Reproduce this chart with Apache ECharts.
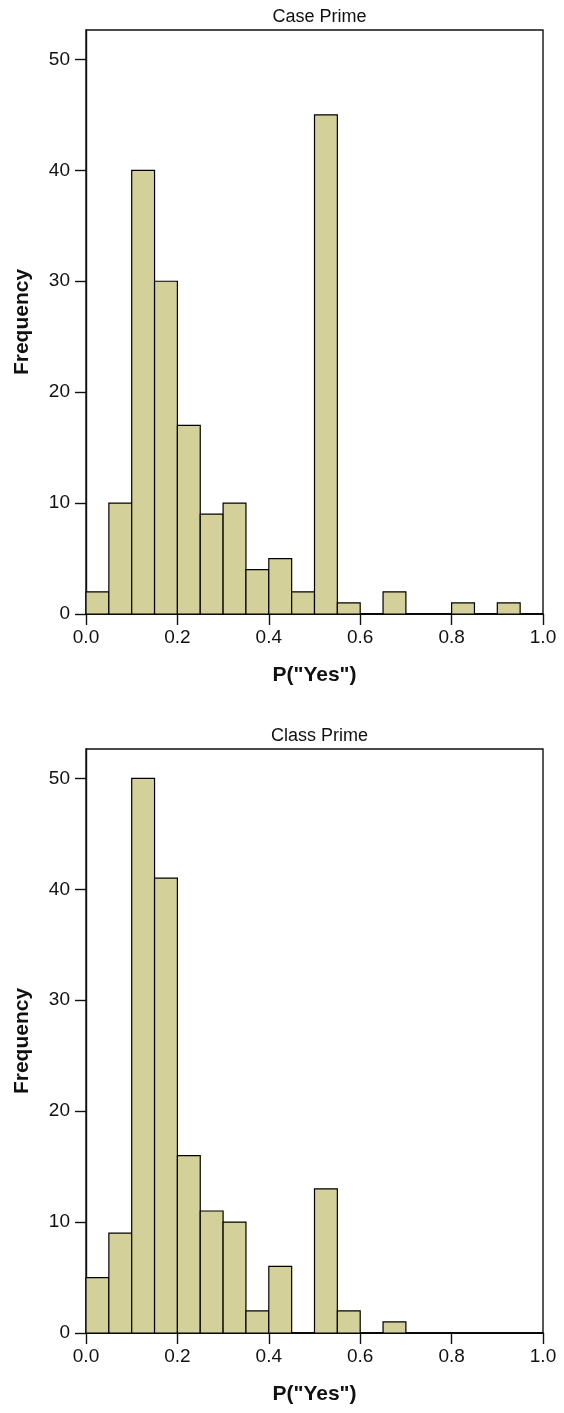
<!DOCTYPE html>
<html>
<head>
<meta charset="utf-8">
<script src="https://cdn.jsdelivr.net/npm/echarts@6/dist/echarts.min.js"></script>
<style>
html,body{margin:0;padding:0;background:#fff;}
#chart{width:564px;height:1413px;}
</style>
</head>
<body>
<div id="chart"></div>
<script>
// Histogram bins (P("Yes"), width 0.05)
const binStarts = [0.00,0.05,0.10,0.15,0.20,0.25,0.30,0.35,0.40,0.45,0.50,0.55,0.60,0.65,0.70,0.75,0.80,0.85,0.90,0.95];
const binWidth = 0.05;
const caseCounts  = [2,10,40,30,17,9,10,4,5,2,45,1,0,2,0,0,1,0,1,0];
const classCounts = [5,9,50,41,16,11,10,2,6,0,13,2,0,1,0,0,0,0,0,0];
const titles = ['Case Prime','Class Prime'];
const xTicks = [0,0.2,0.4,0.6,0.8,1.0];
const yTicks = [0,10,20,30,40,50];
const xName = 'P("Yes")';
const yName = 'Frequency';

const FONT = '"Liberation Sans", Arial, Helvetica, sans-serif';
const chart = echarts.init(document.getElementById('chart'), null, {renderer:'canvas'});

function histData(counts){
  return binStarts.map((s,i)=>[s, s+binWidth, counts[i]]);
}
function renderBar(params, api){
  const x0 = api.value(0), x1 = api.value(1), v = api.value(2);
  const p0 = api.coord([x0, 0]);
  const p1 = api.coord([x1, v]);
  return {
    type:'rect',
    shape:{x:p0[0], y:p1[1], width:p1[0]-p0[0], height:p0[1]-p1[1]},
    style:{fill:'#d4d099', stroke:'#000', lineWidth:1.2}
  };
}

const tops = [30, 749];
const plotH = 584;
const grids = tops.map(t=>({left:86, right:21, top:t, height:plotH, show:true, borderColor:'#111', borderWidth:1.4, containLabel:false}));

const xAxes = tops.map((t,i)=>({
  type:'value', gridIndex:i, min:0, max:1, interval:0.2,
  axisLine:{show:true, onZero:false, lineStyle:{color:'#000', width:1.6}},
  axisTick:{show:true, inside:false, length:11, customValues:xTicks, lineStyle:{color:'#111', width:1.4}},
  splitLine:{show:false},
  axisLabel:{color:'#111', fontFamily:FONT, fontSize:19, margin:14, customValues:xTicks, formatter:v=>Number(v).toFixed(1)},
  name:xName, nameLocation:'middle', nameGap:51,
  nameTextStyle:{color:'#111', fontFamily:FONT, fontSize:21, fontWeight:'bold'}
}));
const yAxes = tops.map((t,i)=>({
  type:'value', gridIndex:i, min:0, max:52.65,
  axisLine:{show:true, lineStyle:{color:'#111', width:1.4}},
  axisTick:{show:true, inside:false, length:11, customValues:yTicks, lineStyle:{color:'#111', width:1.4}},
  splitLine:{show:false},
  axisLabel:{color:'#111', fontFamily:FONT, fontSize:19, margin:16, customValues:yTicks},
  name:yName, nameLocation:'middle', nameGap:53, nameRotate:90,
  nameTextStyle:{color:'#111', fontFamily:FONT, fontSize:21, fontWeight:'bold'}
}));

chart.setOption({
  animation:false,
  backgroundColor:'#fff',
  title: titles.map((t,i)=>({
    text:t, left:314.5, top:tops[i]-27, textAlign:'center',
    textStyle:{color:'#111', fontFamily:FONT, fontSize:18, fontWeight:'normal'}
  })),
  grid:grids,
  xAxis:xAxes,
  yAxis:yAxes,
  series:[caseCounts, classCounts].map((c,i)=>({
    type:'custom', xAxisIndex:i, yAxisIndex:i,
    renderItem:renderBar,
    encode:{x:[0,1], y:2},
    data:histData(c),
    clip:false
  }))
});
</script>
</body>
</html>
